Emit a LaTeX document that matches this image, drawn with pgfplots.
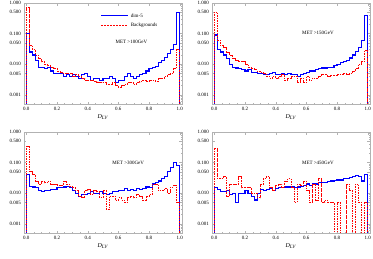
\documentclass[border=0pt]{standalone}
\usepackage{fontspec}
\setmainfont{Liberation Serif}
\usepackage{pgfplots}
\usepackage{pgfplotstable}
\pgfplotsset{compat=1.18}
\definecolor{mblue}{RGB}{0,0,255}
\definecolor{mred}{RGB}{255,0,0}

\pgfplotstableread{
x b r
0.00 0.00001 0.00001
0.00 0.1 0.7
0.02 0.025 0.04
0.04 0.02 0.03
0.06 0.013 0.02
0.08 0.008 0.015
0.10 0.008 0.012
0.12 0.007 0.01
0.14 0.008 0.009
0.16 0.006 0.008
0.18 0.005 0.007
0.20 0.005 0.006
0.22 0.005 0.0055
0.24 0.004 0.005
0.26 0.0045 0.005
0.28 0.004 0.005
0.30 0.0045 0.004
0.32 0.004 0.0045
0.34 0.0035 0.004
0.36 0.0045 0.0035
0.38 0.005 0.003
0.40 0.004 0.003
0.42 0.003 0.003
0.44 0.0035 0.0028
0.46 0.0035 0.0026
0.48 0.003 0.0025
0.50 0.0035 0.0025
0.52 0.0035 0.0022
0.54 0.004 0.0022
0.56 0.0035 0.0025
0.58 0.0025 0.002
0.60 0.003 0.0018
0.62 0.003 0.002
0.64 0.004 0.0022
0.66 0.005 0.0025
0.68 0.004 0.0025
0.70 0.0035 0.0022
0.72 0.004 0.0025
0.74 0.0045 0.0028
0.76 0.005 0.003
0.78 0.006 0.0028
0.80 0.007 0.003
0.82 0.008 0.003
0.84 0.0085 0.0028
0.86 0.011 0.0035
0.88 0.013 0.0035
0.90 0.017 0.004
0.92 0.022 0.0045
0.94 0.03 0.005
0.96 0.045 0.007
0.98 0.5 0.03
1.00 0.5 0.03
1.00 0.00001 0.00001
}\tabA

\pgfplotstableread{
x b r
0.00 0.00001 0.00001
0.00 0.09 0.5
0.02 0.03 0.06
0.04 0.025 0.04
0.06 0.02 0.035
0.08 0.015 0.025
0.10 0.01 0.02
0.12 0.008 0.015
0.14 0.0075 0.013
0.16 0.007 0.012
0.18 0.0065 0.012
0.20 0.006 0.01
0.22 0.0065 0.008
0.24 0.0055 0.007
0.26 0.0055 0.0065
0.28 0.005 0.006
0.30 0.005 0.0055
0.32 0.0045 0.005
0.34 0.0045 0.004
0.36 0.005 0.0035
0.38 0.0055 0.004
0.40 0.0045 0.0035
0.42 0.0045 0.004
0.44 0.005 0.0045
0.46 0.0045 0.003
0.48 0.005 0.0035
0.50 0.0045 0.004
0.52 0.0045 0.004
0.54 0.004 0.0025
0.56 0.0045 0.0035
0.58 0.005 0.0025
0.60 0.0055 0.004
0.62 0.006 0.003
0.64 0.006 0.0035
0.66 0.0065 0.0035
0.68 0.007 0.004
0.70 0.0075 0.0045
0.72 0.0075 0.0045
0.74 0.008 0.004
0.76 0.008 0.0042
0.78 0.009 0.0042
0.80 0.01 0.0045
0.82 0.011 0.0045
0.84 0.012 0.005
0.86 0.013 0.0045
0.88 0.016 0.005
0.90 0.02 0.006
0.92 0.026 0.007
0.94 0.035 0.01
0.96 0.06 0.012
0.98 0.4 0.028
1.00 0.4 0.028
1.00 0.00001 0.00001
}\tabB

\pgfplotstableread{
x b r
0.00 0.00001 0.00001
0.00 0.04 0.35
0.02 0.017 0.05
0.04 0.016 0.04
0.06 0.015 0.025
0.08 0.012 0.02
0.10 0.011 0.025
0.12 0.012 0.022
0.14 0.012 0.025
0.16 0.013 0.02
0.18 0.013 0.02
0.20 0.015 0.018
0.22 0.015 0.018
0.24 0.016 0.025
0.26 0.017 0.02
0.28 0.015 0.017
0.30 0.012 0.015
0.32 0.01 0.012
0.34 0.008 0.008
0.36 0.009 0.007
0.38 0.009 0.012
0.40 0.01 0.013
0.42 0.011 0.009
0.44 0.01 0.012
0.46 0.01 0.011
0.48 0.011 0.007
0.50 0.01 0.012
0.52 0.009 0.003
0.54 0.01 0.008
0.56 0.011 0.008
0.58 0.011 0.006
0.60 0.012 0.007
0.62 0.012 0.006
0.64 0.014 0.005
0.66 0.012 0.007
0.68 0.013 0.008
0.70 0.012 0.007
0.72 0.014 0.009
0.74 0.013 0.008
0.76 0.014 0.006
0.78 0.016 0.008
0.80 0.015 0.009
0.82 0.02 0.02
0.84 0.022 0.02
0.86 0.025 0.012
0.88 0.03 0.012
0.90 0.035 0.014
0.92 0.05 0.01
0.94 0.07 0.016
0.96 0.1 0.018
0.98 0.08 0.005
1.00 0.08 0.005
1.00 0.00001 0.00001
}\tabC

\pgfplotstableread{
x b r
0.00 0.00001 0.00001
0.00 0.015 0.3
0.02 0.013 0.03
0.04 0.011 0.03
0.06 0.011 0.035
0.08 0.012 0.008
0.10 0.009 0.02
0.12 0.01 0.02
0.14 0.005 0.02
0.16 0.01 0.035
0.18 0.01 0.015
0.20 0.012 0.015
0.22 0.01 0.015
0.24 0.008 0.01
0.26 0.006 0.01
0.28 0.01 0.007
0.30 0.013 0.02
0.32 0.012 0.03
0.34 0.013 0.035
0.36 0.014 0.015
0.38 0.012 0.012
0.40 0.014 0.018
0.42 0.015 0.02
0.44 0.015 0.015
0.46 0.016 0.025
0.48 0.016 0.03
0.50 0.017 0.015
0.52 0.015 0.005
0.54 0.016 0.02
0.56 0.017 0.018
0.58 0.018 0.025
0.60 0.02 0.012
0.62 0.018 0.005
0.64 0.02 0.02
0.66 0.02 0.006
0.68 0.022 0.03
0.70 0.023 0.005
0.72 0.022 0.006
0.74 0.024 0.005
0.76 0.025 0.005
0.78 0.026 0.00001
0.80 0.027 0.005
0.82 0.027 0.00001
0.84 0.03 0.00001
0.86 0.03 0.02
0.88 0.033 0.012
0.90 0.035 0.00001
0.92 0.038 0.02
0.94 0.035 0.005
0.96 0.025 0.00001
0.98 0.04 0.005
1.00 0.04 0.005
1.00 0.00001 0.00001
}\tabD

\pgfplotsset{
  mypanel/.style={
    scale only axis, width=158pt, height=101pt,
    xmin=-0.015, xmax=1.015, ymin=0.0005, ymax=1,
    ytick={0.001,0.005,0.01,0.05,0.1,0.5,1},
    yticklabels={0.001,0.005,0.010,0.050,0.100,0.500,1.000},
    minor ytick={0.0006,0.0007,0.0008,0.0009,0.002,0.003,0.004,0.006,0.007,0.008,0.009,0.02,0.03,0.04,0.06,0.07,0.08,0.09,0.2,0.3,0.4,0.6,0.7,0.8,0.9},
    xtick={0,0.2,0.4,0.6,0.8,1},
    xticklabels={0.0,0.2,0.4,0.6,0.8,1.0},
    minor x tick num=3,
    /pgf/number format/assume math mode=true,
    axis line style={gray!60, line width=0.4pt},
    tick style={gray!60, line width=0.3pt},
    major tick length=2.5pt, minor tick length=1.3pt,
    tick align=inside,
    ticklabel style={font=\fontsize{5}{6}\selectfont},
    xticklabel style={yshift=0.5pt},
    yticklabel style={xshift=0.5pt},
    xlabel={\textit{D}\textsubscript{\textit{LV}}},
    xlabel style={font=\fontsize{6}{7}\selectfont, at={(axis description cs:0.5,0)}, anchor=center, yshift=-13pt},
  },
}

\begin{document}
\begin{tikzpicture}
\useasboundingbox (0,0) rectangle (373pt,-258pt);

\begin{axis}[ymode=log, mypanel, at={(24pt,-3pt)}, anchor=north west]
% legend samples
\addplot[mblue, line width=1.4pt] coordinates {(0.49,0.387) (0.66,0.387)};
\addplot[mred, line width=1.1pt, dash pattern=on 2pt off 1pt] coordinates {(0.49,0.188) (0.66,0.188)};
\addplot[mblue, line width=1.1pt, const plot mark left] table[x=x, y=b] {\tabA};
\addplot[mred, line width=0.9pt, dash pattern=on 1.6pt off 0.9pt, const plot mark left] table[x=x, y=r] {\tabA};
\node[anchor=west, font=\fontsize{5}{6}\selectfont, inner sep=0pt] at (axis description cs:0.675,0.875) {dim-5};
\node[anchor=west, font=\fontsize{5}{6}\selectfont, inner sep=0pt] at (axis description cs:0.675,0.78) {Backgrounds};
\node[font=\fontsize{5}{6}\selectfont] at (axis description cs:0.68,0.62) {MET >100GeV};
\end{axis}

\begin{axis}[ymode=log, mypanel, at={(212pt,-3pt)}, anchor=north west]
\addplot[mblue, line width=1.1pt, const plot mark left] table[x=x, y=b] {\tabB};
\addplot[mred, line width=0.9pt, dash pattern=on 1.6pt off 0.9pt, const plot mark left] table[x=x, y=r] {\tabB};
\node[font=\fontsize{5}{6}\selectfont] at (axis description cs:0.67,0.70) {MET >150GeV};
\end{axis}

\begin{axis}[ymode=log, mypanel, at={(24pt,-132pt)}, anchor=north west]
\addplot[mblue, line width=1.1pt, const plot mark left] table[x=x, y=b] {\tabC};
\addplot[mred, line width=0.9pt, dash pattern=on 1.6pt off 0.9pt, const plot mark left] table[x=x, y=r] {\tabC};
\node[font=\fontsize{5}{6}\selectfont] at (axis description cs:0.66,0.69) {MET >300GeV};
\end{axis}

\begin{axis}[ymode=log, mypanel, at={(212pt,-132pt)}, anchor=north west]
\addplot[mblue, line width=1.1pt, const plot mark left] table[x=x, y=b] {\tabD};
\addplot[mred, line width=0.9pt, dash pattern=on 1.6pt off 0.9pt, const plot mark left] table[x=x, y=r] {\tabD};
\node[font=\fontsize{5}{6}\selectfont] at (axis description cs:0.67,0.69) {MET >450GeV};
\end{axis}
\end{tikzpicture}
\end{document}
